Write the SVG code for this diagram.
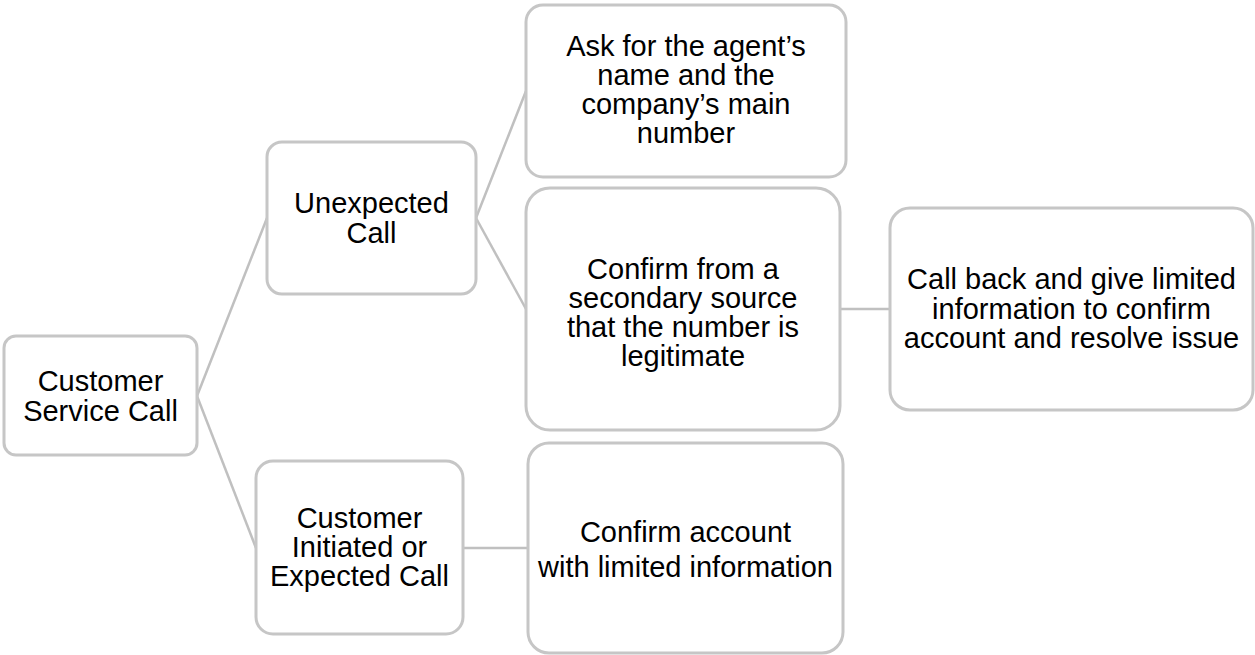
<svg xmlns="http://www.w3.org/2000/svg" width="1255" height="655" viewBox="0 0 1255 655">
  <style>
    .box { fill: #ffffff; stroke: #c6c6c6; stroke-width: 3; }
    .link { stroke: #c0c0c0; stroke-width: 2.5; fill: none; }
    .label { font-family: "Liberation Sans", Arial, sans-serif; font-size: 29px; fill: #000000; text-anchor: middle; }
  </style>
  <rect width="1255" height="655" fill="#ffffff"/>

  <!-- connectors -->
  <g id="connectors">
    <line class="link" x1="197" y1="396" x2="267" y2="218"/>
    <line class="link" x1="197" y1="396" x2="256" y2="548"/>
    <line class="link" x1="476" y1="218" x2="526" y2="91"/>
    <line class="link" x1="476" y1="218" x2="526" y2="309"/>
    <line class="link" x1="840" y1="309" x2="890" y2="309"/>
    <line class="link" x1="463" y1="548" x2="528" y2="548"/>
  </g>

  <g id="node-customer-service-call">
    <rect class="box" x="4" y="336" width="193" height="119" rx="12"/>
    <text class="label"><tspan x="100.5" y="391">Customer</tspan><tspan x="100.5" y="421">Service Call</tspan></text>
  </g>

  <g id="node-unexpected-call">
    <rect class="box" x="267" y="142" width="209" height="152" rx="15"/>
    <text class="label"><tspan x="371.5" y="213">Unexpected</tspan><tspan x="371.5" y="243">Call</tspan></text>
  </g>

  <g id="node-ask-agent">
    <rect class="box" x="526" y="5" width="320" height="172" rx="17"/>
    <text class="label"><tspan x="686" y="56">Ask for the agent’s</tspan><tspan x="686" y="85">name and the</tspan><tspan x="686" y="114">company’s main</tspan><tspan x="686" y="143">number</tspan></text>
  </g>

  <g id="node-confirm-secondary">
    <rect class="box" x="526" y="188" width="314" height="242" rx="24"/>
    <text class="label"><tspan x="683" y="279">Confirm from a</tspan><tspan x="683" y="308">secondary source</tspan><tspan x="683" y="337">that the number is</tspan><tspan x="683" y="366">legitimate</tspan></text>
  </g>

  <g id="node-call-back">
    <rect class="box" x="890" y="208" width="363" height="202" rx="20"/>
    <text class="label"><tspan x="1071.5" y="289">Call back and give limited</tspan><tspan x="1071.5" y="318.5">information to confirm</tspan><tspan x="1071.5" y="348">account and resolve issue</tspan></text>
  </g>

  <g id="node-customer-initiated">
    <rect class="box" x="256" y="461" width="207" height="173" rx="17"/>
    <text class="label"><tspan x="359.5" y="528">Customer</tspan><tspan x="359.5" y="557">Initiated or</tspan><tspan x="359.5" y="586">Expected Call</tspan></text>
  </g>

  <g id="node-confirm-account">
    <rect class="box" x="528" y="443" width="315" height="210" rx="21"/>
    <text class="label"><tspan x="685.5" y="541.5">Confirm account</tspan><tspan x="685.5" y="576.5">with limited information</tspan></text>
  </g>
</svg>
